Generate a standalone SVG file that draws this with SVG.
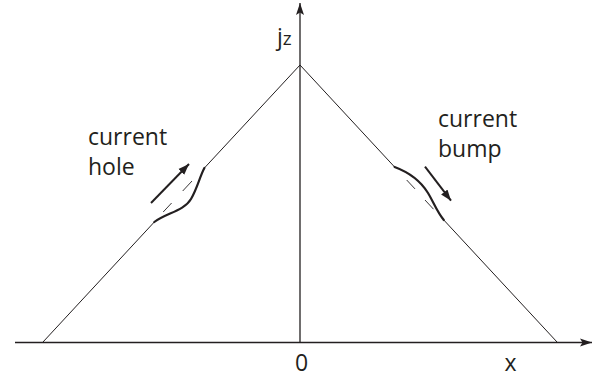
<svg xmlns="http://www.w3.org/2000/svg" width="609" height="378" viewBox="0 0 609 378">
  <style>
    .ln { stroke: #231f20; fill: none; stroke-width: 1; }
    .ax { stroke: #231f20; fill: none; stroke-width: 1.3; }
    .bump { stroke: #231f20; fill: none; stroke-width: 2.2; stroke-linecap: round; }
    .dash { stroke: #231f20; fill: none; stroke-width: 0.9; }
    .arr { stroke: #231f20; fill: none; stroke-width: 2; }
    text { font-family: "Open Sans", "Noto Sans", "DejaVu Sans", sans-serif; fill: #231f20; font-size: 23px; }
  </style>
  <defs>
    <marker id="axhead" markerUnits="userSpaceOnUse" markerWidth="14" markerHeight="10" refX="12" refY="5" orient="auto">
      <path d="M0,1 L12,5 L0,9 L2.5,5 Z" fill="#231f20"/>
    </marker>
    <marker id="head" markerUnits="userSpaceOnUse" markerWidth="13" markerHeight="10" refX="11" refY="5" orient="auto">
      <path d="M0,1 L11,5 L0,9 Z" fill="#231f20"/>
    </marker>
  </defs>

  <g id="axes">
    <line class="ax" x1="15" y1="342.5" x2="592" y2="342.5" marker-end="url(#axhead)"/>
    <line class="ax" x1="300" y1="342.5" x2="300" y2="3" marker-end="url(#axhead)"/>
  </g>

  <g id="profile">
    <line class="ln" x1="43" y1="342" x2="154.3" y2="222"/>
    <line class="ln" x1="204.4" y1="168" x2="300" y2="65"/>
    <line class="ln" x1="300" y1="65" x2="394.6" y2="167"/>
    <line class="ln" x1="443.8" y1="220" x2="557" y2="342"/>
  </g>

  <g id="hole">
    <path class="bump" d="M154.3,222 C166,213 184,211 191,199 C197,189 200,176 204.4,168"/>
    <line class="dash" x1="163.2" y1="212" x2="171.6" y2="203"/>
    <line class="dash" x1="182.7" y1="191" x2="192" y2="181"/>
  </g>

  <g id="bump">
    <path class="bump" d="M394.6,167 C408,172 420,180 428,193 C434,203 437,212 443.8,220"/>
    <line class="dash" x1="406.7" y1="180" x2="415" y2="188.9"/>
    <line class="dash" x1="425" y1="200" x2="433.5" y2="209.2"/>
  </g>

  <g id="connectors">
    <line class="arr" x1="151" y1="203" x2="189" y2="164" marker-end="url(#head)"/>
    <line class="arr" x1="425" y1="166.7" x2="451" y2="200.7" marker-end="url(#head)"/>
  </g>

  <g id="labels">
    <text x="88" y="145">current</text>
    <text x="88" y="175">hole</text>
    <text x="438" y="127">current</text>
    <text x="438" y="157">bump</text>
    <text x="277" y="45" font-size="26">j<tspan font-size="19">z</tspan></text>
    <text x="301.5" y="371" text-anchor="middle">0</text>
    <text x="510.5" y="371" text-anchor="middle">x</text>
  </g>
</svg>
